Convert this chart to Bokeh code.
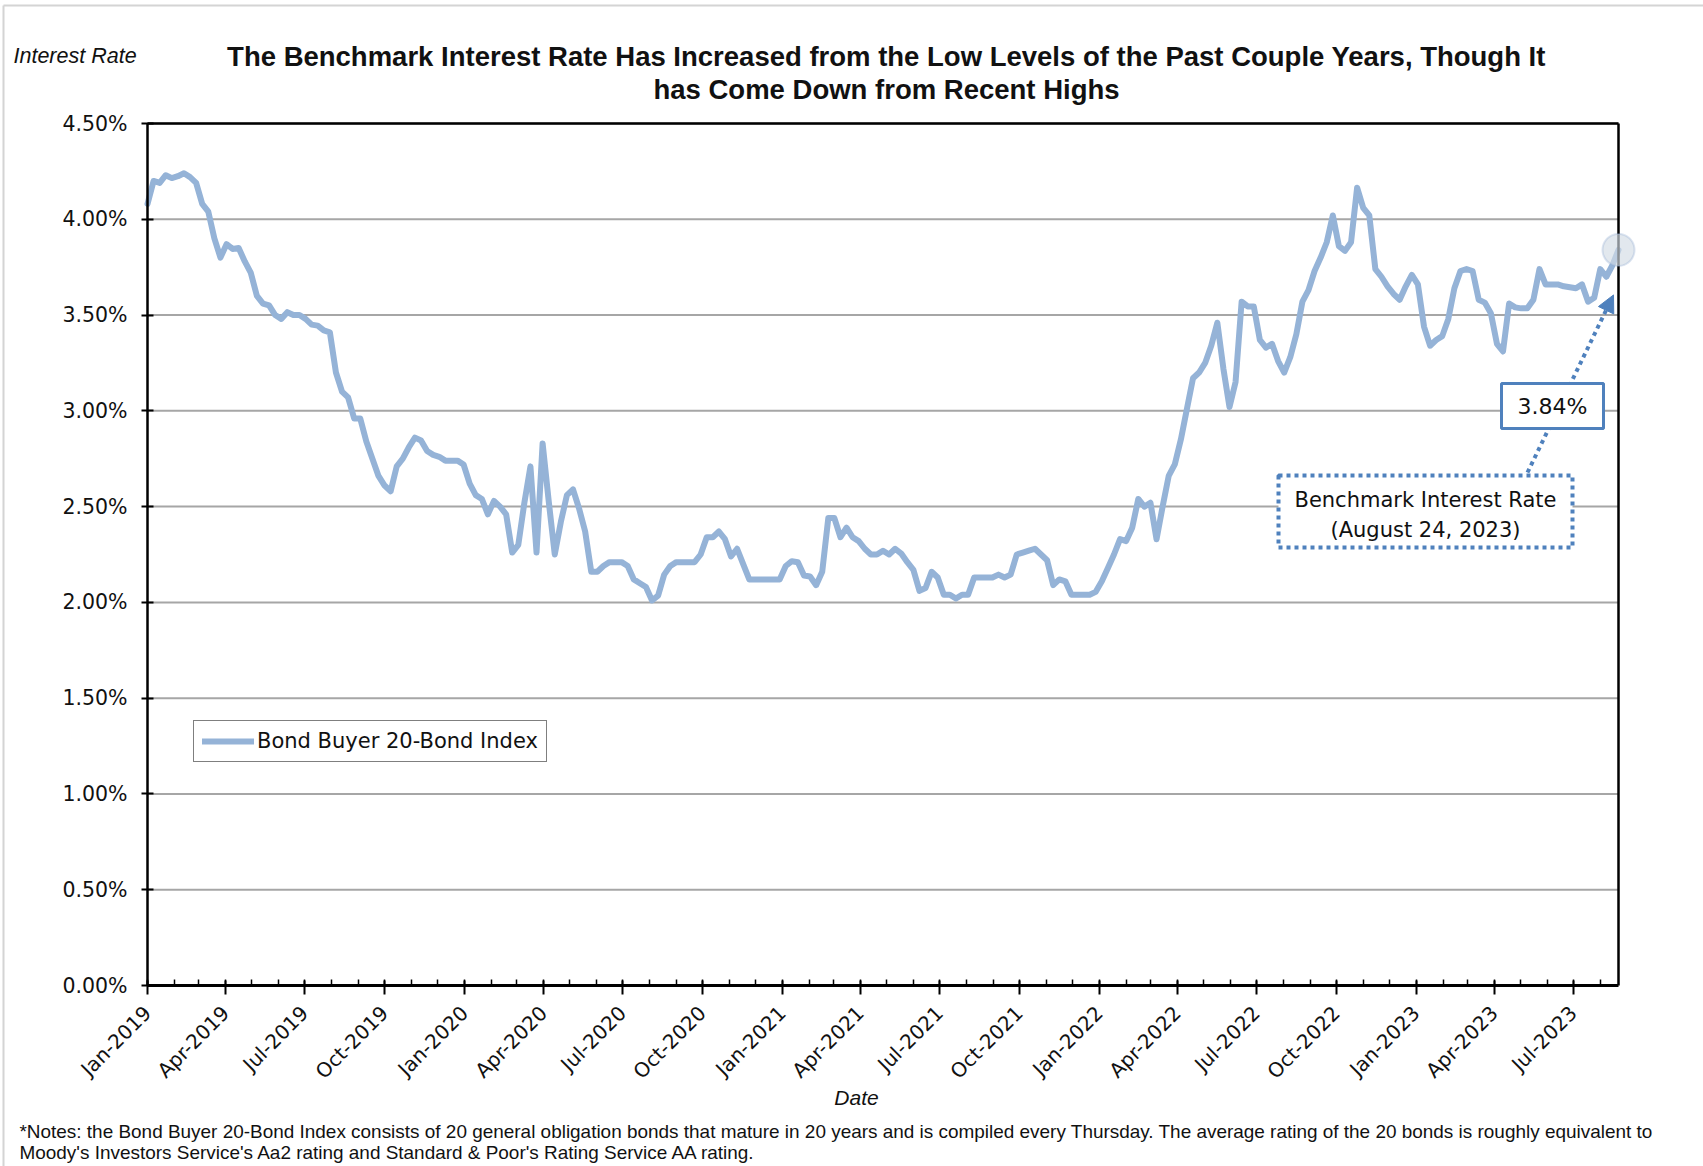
from datetime import datetime, timedelta
import math

from bokeh.plotting import figure
from bokeh.models import (Range1d, FixedTicker, PrintfTickFormatter, Label, Arrow,
                          NormalHead, BoxAnnotation, PolyAnnotation)
from bokeh.embed import file_html
from bokeh.resources import INLINE

# Bond Buyer 20-Bond Index, weekly (every Thursday), in percent
first_thursday = datetime(2019, 1, 3)

rates_2019 = [4.08, 4.20, 4.19, 4.23, 4.215, 4.225, 4.24, 4.22, 4.19, 4.08,
              4.04, 3.90, 3.80, 3.87, 3.845, 3.85, 3.78, 3.72, 3.60, 3.56,
              3.55, 3.50, 3.48, 3.515, 3.50, 3.50, 3.48, 3.45, 3.445, 3.42,
              3.41, 3.20, 3.10, 3.07, 2.96, 2.96, 2.84, 2.75, 2.66, 2.61,
              2.58, 2.71, 2.75, 2.81, 2.86, 2.845, 2.79, 2.77, 2.76, 2.74,
              2.74, 2.74]
rates_2020 = [2.72, 2.62, 2.56, 2.54, 2.46, 2.53, 2.50, 2.46, 2.26, 2.30,
              2.52, 2.71, 2.26, 2.83, 2.53, 2.25, 2.42, 2.56, 2.59, 2.49,
              2.37, 2.16, 2.16, 2.19, 2.21, 2.21, 2.21, 2.19, 2.12, 2.10,
              2.08, 2.01, 2.035, 2.145, 2.19, 2.21, 2.21, 2.21, 2.21, 2.25,
              2.34, 2.34, 2.37, 2.33, 2.24, 2.28, 2.20, 2.12, 2.12, 2.12,
              2.12, 2.12, 2.12]
rates_2021 = [2.19, 2.215, 2.21, 2.14, 2.135, 2.09, 2.16, 2.44, 2.44, 2.34,
              2.39, 2.34, 2.32, 2.28, 2.25, 2.25, 2.27, 2.25, 2.28, 2.255,
              2.21, 2.17, 2.06, 2.075, 2.16, 2.13, 2.04, 2.04, 2.02, 2.04,
              2.04, 2.13, 2.13, 2.13, 2.13, 2.145, 2.13, 2.145, 2.25, 2.26,
              2.27, 2.28, 2.25, 2.22, 2.09, 2.12, 2.11, 2.04, 2.04, 2.04,
              2.04, 2.055]
rates_2022 = [2.11, 2.18, 2.25, 2.33, 2.32, 2.39, 2.54, 2.50, 2.52, 2.33,
              2.50, 2.66, 2.72, 2.85, 3.01, 3.17, 3.20, 3.25, 3.34, 3.46,
              3.22, 3.02, 3.15, 3.57, 3.545, 3.545, 3.37, 3.33, 3.35, 3.26,
              3.20, 3.28, 3.40, 3.57, 3.63, 3.73, 3.80, 3.88, 4.02, 3.86,
              3.835, 3.88, 4.165, 4.06, 4.02, 3.74, 3.70, 3.65, 3.61, 3.58,
              3.65, 3.71]
rates_2023 = [3.66, 3.44, 3.34, 3.37, 3.39, 3.48, 3.64, 3.73, 3.74, 3.73,
              3.58, 3.565, 3.51, 3.35, 3.31, 3.56, 3.54, 3.535, 3.535, 3.58,
              3.74, 3.66, 3.66, 3.66, 3.65, 3.645, 3.64, 3.66, 3.57, 3.59,
              3.74, 3.70, 3.76, 3.84]

rates = rates_2019 + rates_2020 + rates_2021 + rates_2022 + rates_2023
dates = [first_thursday + timedelta(weeks=i) for i in range(len(rates))]

quarter_labels = ["Jan-2019", "Apr-2019", "Jul-2019", "Oct-2019",
                  "Jan-2020", "Apr-2020", "Jul-2020", "Oct-2020",
                  "Jan-2021", "Apr-2021", "Jul-2021", "Oct-2021",
                  "Jan-2022", "Apr-2022", "Jul-2022", "Oct-2022",
                  "Jan-2023", "Apr-2023", "Jul-2023"]
y_ticks = [0.0, 0.5, 1.0, 1.5, 2.0, 2.5, 3.0, 3.5, 4.0, 4.5]
Y_MAX = y_ticks[-1]

LINE_BLUE = "#95b3d7"
NOTE_BLUE = "#4f81bd"
TEXT = "#111111"


def to_ms(d):
    return (d - datetime(1970, 1, 1)).total_seconds() * 1000.0


x0, x1 = to_ms(dates[0]), to_ms(dates[-1])

# Page geometry: the plotting area sits at these pixel edges on the canvas
W, H = 1703, 1166
FL, FR, FT, FB = 147, 1618, 123, 985


def dx(px):
    return x0 + (px - FL) / (FR - FL) * (x1 - x0)


def dy(py):
    return Y_MAX * (FB - py) / (FB - FT)


def px_of(ms):
    return FL + (ms - x0) / (x1 - x0) * (FR - FL)


def py_of(v):
    return FB - v / Y_MAX * (FB - FT)


# the frame covers the whole canvas; axes are pinned at the data edges
p = figure(width=W, height=H, x_axis_type="datetime",
           x_range=Range1d(dx(0), dx(W)), y_range=Range1d(dy(H), dy(0)),
           output_backend="svg", toolbar_location=None,
           min_border_left=0, min_border_right=0,
           min_border_top=0, min_border_bottom=0,
           background_fill_color="white", border_fill_color="white",
           outline_line_color=None)

# x axis: quarterly labels, monthly minor ticks (on the 3rd, like the data start)
major_ms, minor_ms, overrides = [], [], {}
k = 0
for yr in range(2019, 2024):
    for mo in range(1, 13):
        d = datetime(yr, mo, 3)
        if d > dates[-1]:
            continue
        minor_ms.append(to_ms(d))
        if mo in (1, 4, 7, 10):
            m = to_ms(d)
            major_ms.append(m)
            overrides[m] = quarter_labels[k]
            k += 1

xa = p.xaxis[0]
xa.fixed_location = 0
xa.bounds = (x0, x1)
xa.ticker = FixedTicker(ticks=major_ms, minor_ticks=minor_ms)
xa.major_label_overrides = overrides
xa.major_label_orientation = math.pi / 4
xa.axis_line_color = "black"
xa.axis_line_width = 3
xa.major_tick_in = 5
xa.major_tick_out = 9
xa.major_tick_line_width = 2
xa.minor_tick_in = 6
xa.minor_tick_out = 0
xa.minor_tick_line_width = 1.5
xa.minor_tick_line_color = "black"
xa.major_label_text_font = "DejaVu Sans"
xa.major_label_text_font_size = "20px"
xa.major_label_text_color = TEXT
xa.major_label_standoff = 15

ya = p.yaxis[0]
ya.fixed_location = x0
ya.bounds = (0, Y_MAX)
ya.ticker = FixedTicker(ticks=y_ticks, minor_ticks=[])
ya.formatter = PrintfTickFormatter(format="%.2f%%")
ya.axis_line_color = "black"
ya.axis_line_width = 2.5
ya.major_tick_in = 6
ya.major_tick_out = 6
ya.major_tick_line_width = 2
ya.major_label_text_font = "DejaVu Sans"
ya.major_label_text_font_size = "20.5px"
ya.major_label_text_color = TEXT
ya.major_label_standoff = 14

p.xgrid.visible = False
p.ygrid.visible = False

# horizontal gridlines at each y tick, limited to the data span
p.segment(x0=[x0] * (len(y_ticks) - 1), x1=[x1] * (len(y_ticks) - 1),
          y0=y_ticks[1:], y1=y_ticks[1:], line_color="#a6a6a6", line_width=2,
          level="underlay")

p.line(x=dates, y=rates, line_color=LINE_BLUE, line_width=6,
       line_join="round", line_cap="round",
       legend_label="Bond Buyer 20-Bond Index")

# top and right edges of the plotting area
p.segment(x0=[x0, x1], x1=[x1, x1], y0=[Y_MAX, 0], y1=[Y_MAX, Y_MAX],
          line_color="black", line_width=2.5)

lg = p.legend[0]
lg.location = (193, H - 762)
lg.border_line_color = "black"
lg.border_line_width = 1.5
lg.background_fill_color = "white"
lg.background_fill_alpha = 1.0
lg.label_text_font = "DejaVu Sans"
lg.label_text_font_size = "21px"
lg.label_text_color = TEXT
lg.glyph_width = 52
lg.glyph_height = 22
lg.label_standoff = 3
lg.padding = 8
lg.margin = 0
lg.spacing = 0

# thin grey border of the chart area (top and left edges)
for xs_, ys_, xe_, ye_ in [(3, 5, W, 5), (3, 5, 3, H)]:
    p.add_layout(Arrow(start=None, end=None, x_start=dx(xs_), y_start=dy(ys_),
                       x_end=dx(xe_), y_end=dy(ye_),
                       line_color="#d4d4d4", line_width=2))

# titles and captions
p.add_layout(Label(x=dx(13), y=dy(55), text="Interest Rate",
                   text_font="Liberation Sans", text_font_style="italic",
                   text_font_size="21.5px", text_color=TEXT,
                   text_align="left", text_baseline="middle"))
for line_text, ypix in [("The Benchmark Interest Rate Has Increased from the Low Levels of the Past Couple Years, Though It", 56),
                        ("has Come Down from Recent Highs", 89)]:
    p.add_layout(Label(x=dx(886), y=dy(ypix), text=line_text,
                       text_font="Liberation Sans", text_font_style="bold",
                       text_font_size="27.5px", text_color=TEXT,
                       text_align="center", text_baseline="middle"))
p.add_layout(Label(x=dx(856), y=dy(1097), text="Date",
                   text_font="Liberation Sans", text_font_style="italic",
                   text_font_size="21px", text_color=TEXT,
                   text_align="center", text_baseline="middle"))
notes = ["*Notes: the Bond Buyer 20-Bond Index consists of 20 general obligation bonds that mature in 20 years and is compiled every Thursday. The average rating of the 20 bonds is roughly equivalent to",
         "Moody's Investors Service's Aa2 rating and Standard & Poor's Rating Service AA rating."]
for note, ypix in zip(notes, [1131, 1152]):
    p.add_layout(Label(x=dx(19), y=dy(ypix), text=note,
                       text_font="Liberation Sans", text_font_size="18.95px",
                       text_color=TEXT, text_align="left", text_baseline="middle"))

# callout for the latest value
last_ms, last_v = to_ms(dates[-1]), rates[-1]
lx, ly = px_of(last_ms), py_of(last_v)

p.add_layout(Arrow(x_start=dx(1527), y_start=dy(472),
                   x_end=dx(lx - 5), y_end=dy(ly + 45),
                   line_color=NOTE_BLUE, line_width=4, line_dash="4 4",
                   end=NormalHead(size=17, fill_color=NOTE_BLUE,
                                  line_color=NOTE_BLUE, line_width=1)))

p.add_layout(BoxAnnotation(left=dx(1278), right=dx(1572), top=dy(475), bottom=dy(547),
                           fill_color="white", fill_alpha=1.0,
                           line_color=NOTE_BLUE, line_width=4, line_dash="4 4",
                           line_alpha=1.0))
p.add_layout(BoxAnnotation(left=dx(1501), right=dx(1603), top=dy(383), bottom=dy(428),
                           fill_color="white", fill_alpha=1.0,
                           line_color=NOTE_BLUE, line_width=3, line_alpha=1.0))
p.add_layout(Label(x=dx(1552), y=dy(406), text=f"{last_v:.2f}%",
                   text_font="DejaVu Sans", text_font_size="22px", text_color=TEXT,
                   text_align="center", text_baseline="middle"))
for t, ypix in [("Benchmark Interest Rate", 499), ("(August 24, 2023)", 529)]:
    p.add_layout(Label(x=dx(1425), y=dy(ypix), text=t,
                       text_font="DejaVu Sans", text_font_size="21px", text_color=TEXT,
                       text_align="center", text_baseline="middle"))

# highlight ring on the latest point
r = 16
angles = [2 * math.pi * i / 48 for i in range(48)]
p.add_layout(PolyAnnotation(xs=[dx(lx + r * math.cos(a)) for a in angles],
                            ys=[dy(ly + r * math.sin(a)) for a in angles],
                            fill_color="#d3dbe5", fill_alpha=0.65,
                            line_color="#8eaad2", line_width=2))

open("out.html", "w").write(file_html(p, INLINE))
